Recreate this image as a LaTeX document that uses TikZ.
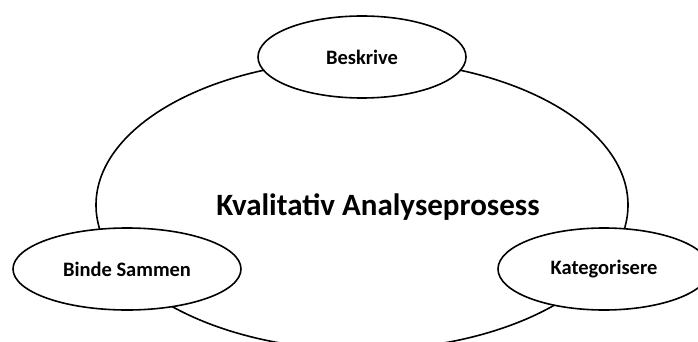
\documentclass[tikz,border=0pt]{standalone}
\usepackage{fontspec}
\setmainfont{Carlito}
\usetikzlibrary{shapes.geometric}
\begin{document}
\begin{tikzpicture}[x=1pt,y=-1pt,
  bubble/.style={ellipse,draw=black,line width=1.6pt,fill=white,inner sep=0pt,font=\bfseries\fontsize{20.5}{24}\selectfont}]
\useasboundingbox (0,0) rectangle (698,342);
\clip (0,0) rectangle (698,342);
\node[ellipse,draw=black,line width=1.6pt,minimum width=532pt,minimum height=290pt,inner sep=0pt] (big) at (362,205) {};
\node[font=\bfseries\fontsize{31}{36}\selectfont] (title) at (378,207) {Kvalitativ Analyseprosess};
\node[bubble,minimum width=208pt,minimum height=82pt] (b) at (362,57) {Beskrive};
\node[bubble,minimum width=228pt,minimum height=82pt] (s) at (127,269) {Binde Sammen};
\node[bubble,minimum width=212pt,minimum height=82pt] (k) at (604,269) {Kategorisere};
\end{tikzpicture}
\end{document}
